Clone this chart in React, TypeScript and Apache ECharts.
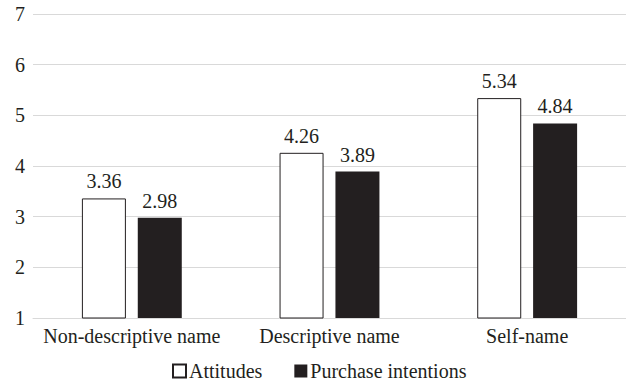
import React, { useEffect, useRef } from "react";
import * as echarts from "echarts";

const categories = ["Non-descriptive name", "Descriptive name", "Self-name"];
const attitudes = [3.36, 4.26, 5.34];
const purchaseIntentions = [2.98, 3.89, 4.84];
const seriesNames = ["Attitudes", "Purchase intentions"];

const FONT = "serif";
const INK = "#231f20";
const GRID = "#d9d9d9";

const serifText = { color: INK, fontFamily: FONT, fontSize: 20, fontStyle: "normal", fontWeight: "normal" };

export default function App() {
  const ref = useRef<HTMLDivElement>(null);

  useEffect(() => {
    document.body.style.margin = "0";
    if (!ref.current) return;
    const chart = echarts.init(ref.current, null, { renderer: "svg" });
    const label = {
      show: true,
      position: "top",
      distance: 7,
      ...serifText,
      formatter: (p: any) => "{t|" + p.value.toFixed(2) + "}",
      rich: { t: serifText },
    };
    chart.setOption({
      animation: false,
      textStyle: { fontFamily: FONT, fontSize: 20 },
      grid: { left: 33, right: 0, top: 14, bottom: 66, containLabel: false },
      legend: {
        top: 356,
        left: 167,
        itemWidth: 13,
        itemHeight: 13,
        itemGap: 32,
        formatter: (name: string) => "{t|" + name + "}",
        textStyle: { ...serifText, padding: [0, 0, 0, -2], rich: { t: serifText } },
        data: [
          { name: seriesNames[0], icon: "rect" },
          { name: seriesNames[1], icon: "rect" },
        ],
      },
      xAxis: {
        type: "category",
        data: categories,
        axisLine: { show: true, lineStyle: { color: GRID, width: 1 } },
        axisTick: { show: false },
        axisLabel: {
          ...serifText,
          margin: 8,
          interval: 0,
          formatter: (v: string) => "{t|" + v + "}",
          rich: { t: serifText },
        },
      },
      yAxis: {
        type: "value",
        min: 1,
        max: 7,
        interval: 1,
        axisLine: { show: false },
        axisTick: { show: false },
        axisLabel: {
          ...serifText,
          margin: 8,
          formatter: (v: number) => "{t|" + v + "}",
          rich: { t: serifText },
        },
        splitLine: { lineStyle: { color: GRID, width: 1 } },
      },
      series: [
        {
          name: seriesNames[0],
          type: "bar",
          data: attitudes,
          barWidth: 44,
          barGap: "27%",
          itemStyle: { color: "#ffffff", borderColor: INK, borderWidth: 1 },
          label,
        },
        {
          name: seriesNames[1],
          type: "bar",
          data: purchaseIntentions,
          barWidth: 44,
          itemStyle: { color: INK },
          label,
        },
      ],
    });
    return () => chart.dispose();
  }, []);

  return <div ref={ref} style={{ width: 626, height: 384 }} />;
}
